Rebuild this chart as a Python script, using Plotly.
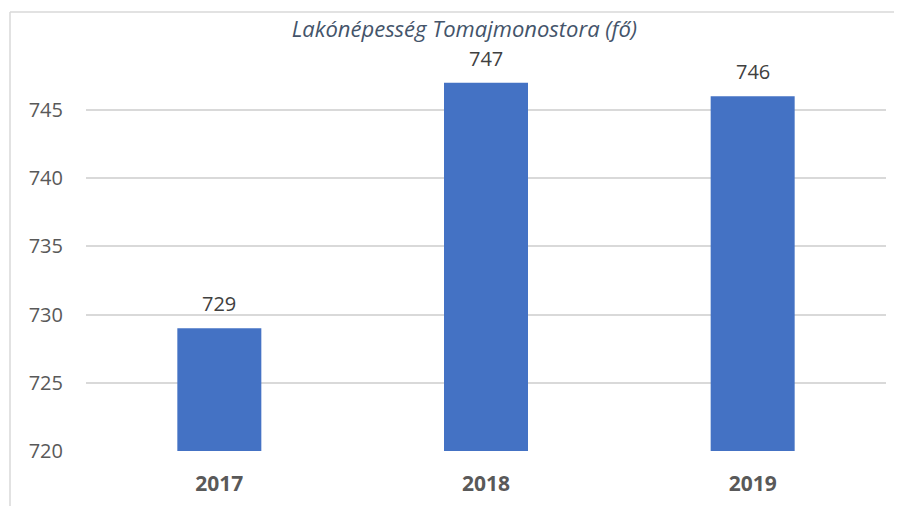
import plotly.graph_objects as go

years = ['2017', '2018', '2019']
population = [729, 747, 746]
y_ticks = [720, 725, 730, 735, 740, 745]

title_text = 'Lakónépesség Tomajmonostora (fő)'
bar_color = '#4472C4'
font_name = 'Open Sans, Noto Sans, sans-serif'

fig = go.Figure()
fig.add_trace(go.Bar(x=years, y=population, marker=dict(color=bar_color, line=dict(width=0)),
                     hoverinfo='x+y'))

# value labels above each bar (x as category index, numeric-looking strings confuse category axis)
for i, val in enumerate(population):
    fig.add_annotation(x=i, y=val, text=str(val), showarrow=False, yanchor='bottom', yshift=9,
                       font=dict(family=font_name, size=20, color='#404040'))

fig.update_layout(
    width=902, height=506,
    margin=dict(l=78, r=24, t=61, b=63),
    paper_bgcolor='white', plot_bgcolor='white',
    bargap=0.685,
    showlegend=False,
    title=dict(text=title_text, x=0.506, xanchor='center', y=0.957, yanchor='middle',
               font=dict(family=font_name, size=22, color='#44546A', style='italic')),
    xaxis=dict(type='category', range=[-0.5, len(years) - 0.5], showgrid=False, showline=False, ticks='',
               tickfont=dict(family=font_name, size=21, color='#595959', weight='bold'),
               ticklabelstandoff=18),
    yaxis=dict(range=[720, 748], tickvals=y_ticks, showgrid=True, gridcolor='#D9D9D9', gridwidth=1.5,
               zeroline=False, showline=False, ticks='',
               tickfont=dict(family=font_name, size=20, color='#595959'), ticklabelstandoff=22),
    shapes=[
        dict(type='line', xref='paper', yref='paper', x0=-0.095, x1=1.04, y0=1.149, y1=1.149,
             line=dict(color='#D9D9D9', width=1.5)),
        dict(type='line', xref='paper', yref='paper', x0=-0.095, x1=-0.095, y0=1.149, y1=-0.2,
             line=dict(color='#D9D9D9', width=1.5)),
    ],
)

fig.write_html("out.html")
